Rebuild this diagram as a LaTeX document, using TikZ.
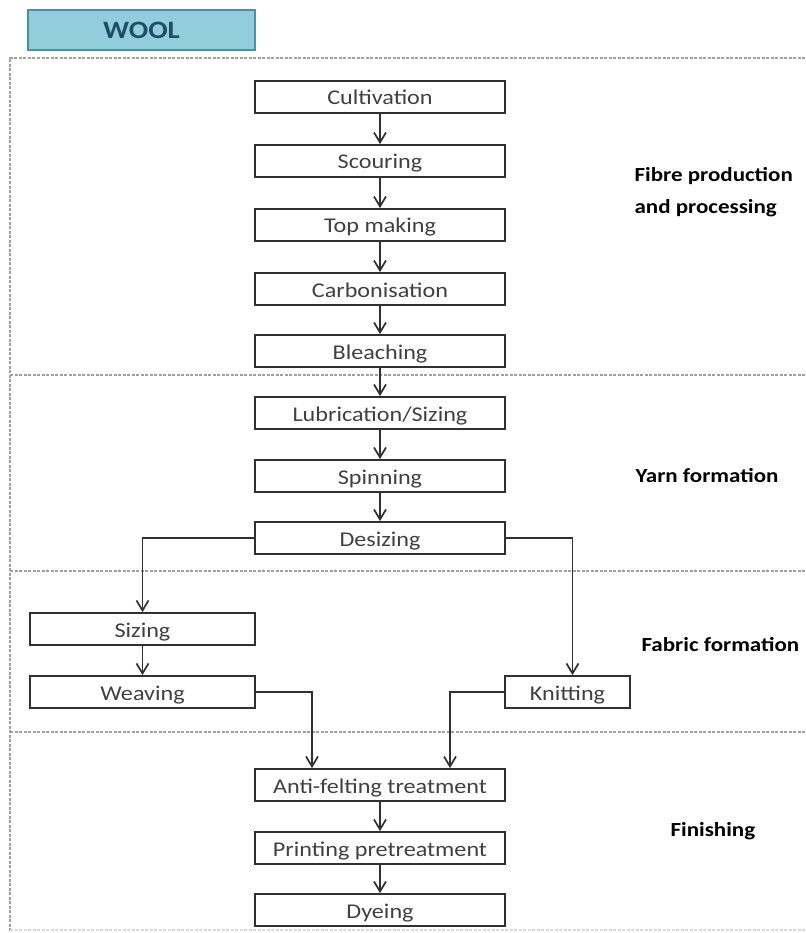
\documentclass[tikz,border=0pt]{standalone}
\usepackage{fontspec}
\setmainfont{Carlito}[FakeStretch=1.15]
\usetikzlibrary{arrows.meta}
\definecolor{woolfill}{HTML}{92CDDC}
\definecolor{woolline}{HTML}{4F8FA3}
\definecolor{wooltext}{HTML}{1F4E6B}
\definecolor{boxline}{HTML}{303030}
\definecolor{boxtext}{HTML}{404040}
\definecolor{frameline}{HTML}{A0A0A0}
\tikzset{
  stage/.style={draw=boxline, line width=1.8pt, minimum width=250pt, minimum height=32pt,
    inner sep=0pt, text height=17pt, text depth=1pt, text=boxtext, font=\fontsize{21}{24}\selectfont},
  phase/.style={anchor=west, align=left, font=\fontsize{20}{32}\selectfont\bfseries},
  flow/.style={draw=boxline, line width=1.7pt, -{Straight Barb[length=10pt,width=12pt]}},
  frame/.style={draw=frameline, line width=1.2pt, dash pattern=on 3pt off 1.5pt}
}

\begin{document}
\begin{tikzpicture}[x=1pt,y=-1pt]
	\useasboundingbox (0,0) rectangle (805,933);
	\node[draw=woolline, fill=woolfill, line width=1.4pt, minimum width=227pt, minimum height=40pt,
		text=wooltext, font=\fontsize{25}{30}\selectfont\bfseries] (wool) at (141.5,30) {WOOL};
	\draw[frame] (805,58) -- (10,58) -- (10,933);
	\draw[frame] (10,375) -- (805,375);
	\draw[frame] (10,571) -- (805,571);
	\draw[frame] (10,732) -- (805,732);
	\draw[frame, draw=frameline!40] (10,930) -- (805,930);
	\node[stage] (cult) at (380,97) {Cultivation};
	\node[stage] (scour) at (380,161) {Scouring};
	\node[stage] (top) at (380,225) {Top making};
	\node[stage] (carb) at (380,289) {Carbonisation};
	\node[stage] (bleach) at (380,351) {Bleaching};
	\node[stage] (lubr) at (380,413) {Lubrication/Sizing};
	\node[stage] (spin) at (380,476) {Spinning};
	\node[stage] (desiz) at (380,538) {Desizing};
	\node[stage, minimum width=225pt] (sizing) at (142.5,629) {Sizing};
	\node[stage, minimum width=225pt] (weav) at (142.5,692) {Weaving};
	\node[stage, minimum width=125pt] (knit) at (567.5,692) {Knitting};
	\node[stage] (anti) at (380,785) {Anti-felting treatment};
	\node[stage] (print) at (380,848) {Printing pretreatment};
	\node[stage] (dye) at (380,910) {Dyeing};
	\node[phase] (fibre) at (631,192) {Fibre production\\and processing};
	\node[phase] (yarn) at (632,476) {Yarn formation};
	\node[phase] (fabric) at (638,645) {Fabric formation};
	\node[phase] (finish) at (667,831) {Finishing};
	\draw[flow] (cult) -- (scour);
	\draw[flow] (scour) -- (top);
	\draw[flow] (top) -- (carb);
	\draw[flow] (carb) -- (bleach);
	\draw[flow] (bleach) -- (lubr);
	\draw[flow] (lubr) -- (spin);
	\draw[flow] (spin) -- (desiz);
	\draw[flow] (desiz.west) -| (sizing.north);
	\draw[flow] (sizing) -- (weav);
	\draw[flow] (desiz.east) -| ([xshift=5pt]knit.north);
	\draw[flow] (weav.east) -| ([xshift=-68pt]anti.north);
	\draw[flow] (knit.west) -| ([xshift=70pt]anti.north);
	\draw[flow] (anti) -- (print);
	\draw[flow] (print) -- (dye);
\end{tikzpicture}
\end{document}
